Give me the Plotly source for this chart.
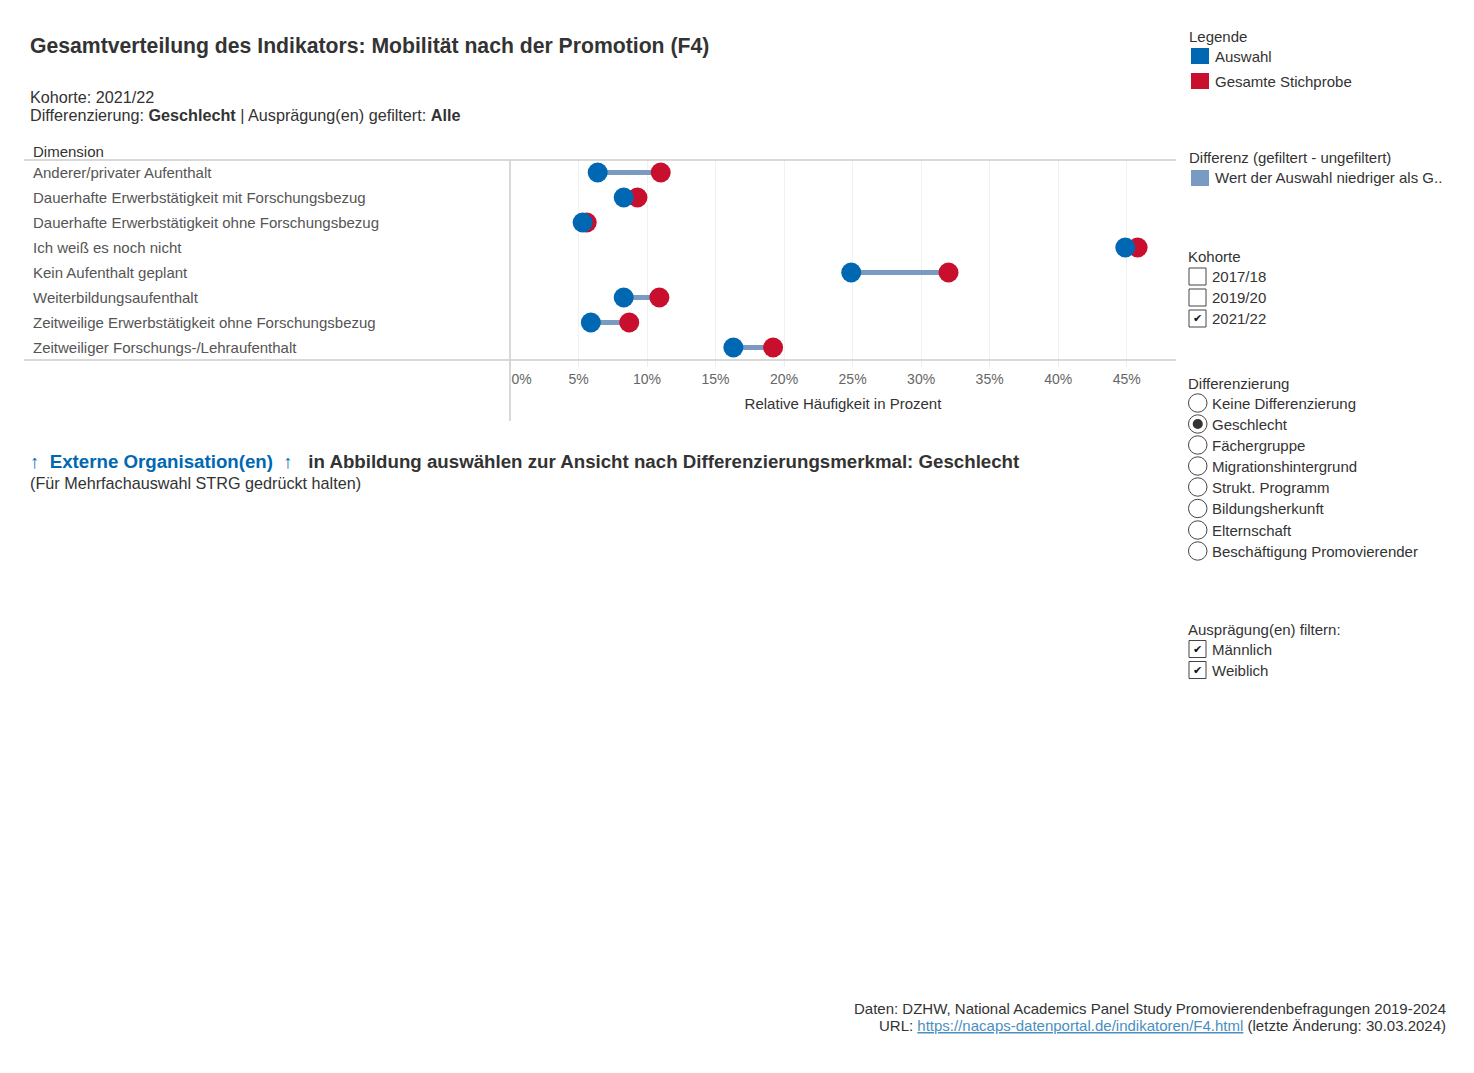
import plotly.graph_objects as go

# ---------------- data ----------------
categories = [
    "Anderer/privater Aufenthalt",
    "Dauerhafte Erwerbstätigkeit mit Forschungsbezug",
    "Dauerhafte Erwerbstätigkeit ohne Forschungsbezug",
    "Ich weiß es noch nicht",
    "Kein Aufenthalt geplant",
    "Weiterbildungsaufenthalt",
    "Zeitweilige Erwerbstätigkeit ohne Forschungsbezug",
    "Zeitweiliger Forschungs-/Lehraufenthalt",
]
auswahl = [6.4, 8.3, 5.3, 44.9, 24.9, 8.3, 5.9, 16.3]
gesamt = [11.0, 9.3, 5.6, 45.8, 32.0, 10.9, 8.7, 19.2]
x_ticks = [0, 5, 10, 15, 20, 25, 30, 35, 40, 45]
x_tick_labels = ["0%", "5%", "10%", "15%", "20%", "25%", "30%", "35%", "40%", "45%"]

kohorten = ["2017/18", "2019/20", "2021/22"]
kohorte_checked = [False, False, True]
differenzierungen = ["Keine Differenzierung", "Geschlecht", "Fächergruppe",
                     "Migrationshintergrund", "Strukt. Programm", "Bildungsherkunft",
                     "Elternschaft", "Beschäftigung Promovierender"]
diff_selected = "Geschlecht"
auspraegungen = ["Männlich", "Weiblich"]

# ---------------- style ----------------
PAGE_W, PAGE_H = 1474, 1073
OFF = 8  # default body margin of the html page
W, H = PAGE_W - 2 * OFF, PAGE_H - 2 * OFF
FONT = "Arial, Liberation Sans, sans-serif"
BLUE = "#0068B2"
RED = "#C8102E"
LINEC = "#7A9BC1"
DARK = "#333333"
GRAY = "#555555"
TXT_PAD = 2  # annotation inner padding


def px(x):
    return (x - OFF) / W


def py(y):
    return 1 - (y - OFF) / H


fig = go.Figure()

# connecting lines
lx, ly = [], []
for c, a, g in zip(categories, auswahl, gesamt):
    lx += [a, g, None]
    ly += [c, c, None]
fig.add_trace(go.Scatter(x=lx, y=ly, mode="lines",
                         line=dict(color=LINEC, width=5), hoverinfo="skip",
                         showlegend=False))
fig.add_trace(go.Scatter(x=gesamt, y=categories, mode="markers",
                         marker=dict(color=RED, size=20, line=dict(width=0)),
                         name="Gesamte Stichprobe", showlegend=False))
fig.add_trace(go.Scatter(x=auswahl, y=categories, mode="markers",
                         marker=dict(color=BLUE, size=20, line=dict(width=0)),
                         name="Auswahl", showlegend=False))

# first label kept inside the plot (as in the original): pad with no-break spaces
tick_text = [("\u00a0" * 6 + t) if i == 0 else t for i, t in enumerate(x_tick_labels)]

fig.update_layout(
    width=W, height=H,
    margin=dict(l=0, r=0, t=0, b=0),
    paper_bgcolor="white", plot_bgcolor="white",
    font=dict(family=FONT, color=DARK),
    showlegend=False,
    xaxis=dict(domain=[px(510), px(1176)], range=[0, 48.6],
               tickvals=x_ticks, ticktext=tick_text,
               showgrid=True, gridcolor="#f1f1f1", gridwidth=1,
               zeroline=False, showline=False,
               ticks="outside", ticklen=6, tickcolor="#eeeeee",
               tickfont=dict(size=14, color="#666666", family=FONT),
               title=dict(text="Relative Häufigkeit in Prozent",
                          font=dict(size=15, color=DARK, family=FONT),
                          standoff=12),
               automargin=False, fixedrange=True),
    yaxis=dict(domain=[py(360), py(160)], type="category",
               categoryorder="array", categoryarray=categories,
               range=[len(categories) - 0.5, -0.5],
               showticklabels=False, showgrid=False, zeroline=False,
               showline=False, automargin=False, fixedrange=True),
)

shapes = []
line_c = "#cccccc"
shapes.append(dict(type="line", xref="paper", yref="paper",
                   x0=px(24), x1=px(1176), y0=py(160), y1=py(160),
                   line=dict(color=line_c, width=1.5)))
shapes.append(dict(type="line", xref="paper", yref="paper",
                   x0=px(24), x1=px(1176), y0=py(360), y1=py(360),
                   line=dict(color=line_c, width=1.5)))
shapes.append(dict(type="line", xref="paper", yref="paper",
                   x0=px(510), x1=px(510), y0=py(160), y1=py(421),
                   line=dict(color=line_c, width=1.5)))

ann = []


def text(x, y, t, size=15, color=DARK, anchor="left", bold=False):
    if bold:
        t = "<b>" + t + "</b>"
    xx = x - TXT_PAD if anchor == "left" else x + TXT_PAD
    ann.append(dict(x=px(xx), y=py(y), xref="paper", yref="paper", text=t,
                    showarrow=False, xanchor=anchor, yanchor="middle",
                    font=dict(size=size, color=color, family=FONT)))


# category labels on the left, positioned via the y axis scale
for c in categories:
    ann.append(dict(x=px(33 - TXT_PAD), xref="paper", y=c, yref="y", text=c,
                    showarrow=False, xanchor="left", yanchor="middle",
                    font=dict(size=15, color=GRAY, family=FONT)))
text(33, 151, "Dimension", size=15, color=DARK)

# titles
text(30, 46, "Gesamtverteilung des Indikators: Mobilität nach der Promotion (F4)", size=21.2, bold=True)
text(30, 97, "Kohorte: 2021/22", size=16.2)
text(30, 115, "Differenzierung: <b>Geschlecht</b> | Ausprägung(en) gefiltert: <b>Alle</b>", size=16.2)

text(30, 461, "<span style='color:#0068B2'><b>↑\u00a0 Externe Organisation(en)\u00a0 ↑</b></span>"
     "\u00a0\u00a0 <b>in Abbildung auswählen zur Ansicht nach Differenzierungsmerkmal: Geschlecht</b>",
     size=18.7)
text(30, 483, "(Für Mehrfachauswahl STRG gedrückt halten)", size=16.2)

# right panel: legends
text(1189, 36, "Legende", size=15)
for yy, col, lab in [(56, BLUE, "Auswahl"), (81, RED, "Gesamte Stichprobe")]:
    shapes.append(dict(type="rect", xref="paper", yref="paper",
                       x0=px(1191), x1=px(1209), y0=py(yy - 8), y1=py(yy + 8),
                       fillcolor=col, line=dict(width=0)))
    text(1215, yy, lab, size=15)

text(1189, 158, "Differenz (gefiltert - ungefiltert)", size=15)
shapes.append(dict(type="rect", xref="paper", yref="paper",
                   x0=px(1191), x1=px(1209), y0=py(170), y1=py(186),
                   fillcolor=LINEC, line=dict(width=0)))
text(1215, 178, "Wert der Auswahl niedriger als G..", size=15)


def checkbox(y, label, checked):
    shapes.append(dict(type="rect", xref="paper", yref="paper",
                       x0=px(1189), x1=px(1206), y0=py(y - 8.5), y1=py(y + 8.5),
                       fillcolor="white", line=dict(color="#444444", width=1)))
    if checked:
        ann.append(dict(x=px(1197.5), y=py(y), xref="paper", yref="paper",
                        text="✔", showarrow=False, xanchor="center", yanchor="middle",
                        font=dict(size=11, color="#111111", family="DejaVu Sans")))
    text(1212, y, label, size=15)


def radio(y, label, selected):
    shapes.append(dict(type="circle", xref="paper", yref="paper",
                       x0=px(1188.5), x1=px(1207), y0=py(y - 9.2), y1=py(y + 9.2),
                       fillcolor="white", line=dict(color="#444444", width=1)))
    if selected:
        shapes.append(dict(type="circle", xref="paper", yref="paper",
                           x0=px(1192.7), x1=px(1202.8), y0=py(y - 5), y1=py(y + 5),
                           fillcolor="#333333", line=dict(width=0)))
    text(1212, y, label, size=15)


text(1188, 256, "Kohorte", size=15)
for yy, lab, chk in zip([276.5, 297.5, 318.5], kohorten, kohorte_checked):
    checkbox(yy, lab, chk)

text(1188, 383, "Differenzierung", size=15)
radio_y = [403, 424, 445, 466, 487, 508.5, 530, 551]
for yy, lab in zip(radio_y, differenzierungen):
    radio(yy, lab, lab == diff_selected)

text(1188, 629, "Ausprägung(en) filtern:", size=15)
for yy, lab in zip([649, 670], auspraegungen):
    checkbox(yy, lab, True)

# footer
text(1446, 1008, "Daten: DZHW, National Academics Panel Study Promovierendenbefragungen 2019-2024",
     size=15, anchor="right")
text(1446, 1025, "URL: <span style='color:#4A8FC0;text-decoration:underline'>"
     "https://nacaps-datenportal.de/indikatoren/F4.html</span> (letzte Änderung: 30.03.2024)",
     size=15, anchor="right")

fig.update_layout(shapes=shapes, annotations=ann)
fig.write_html("out.html")
